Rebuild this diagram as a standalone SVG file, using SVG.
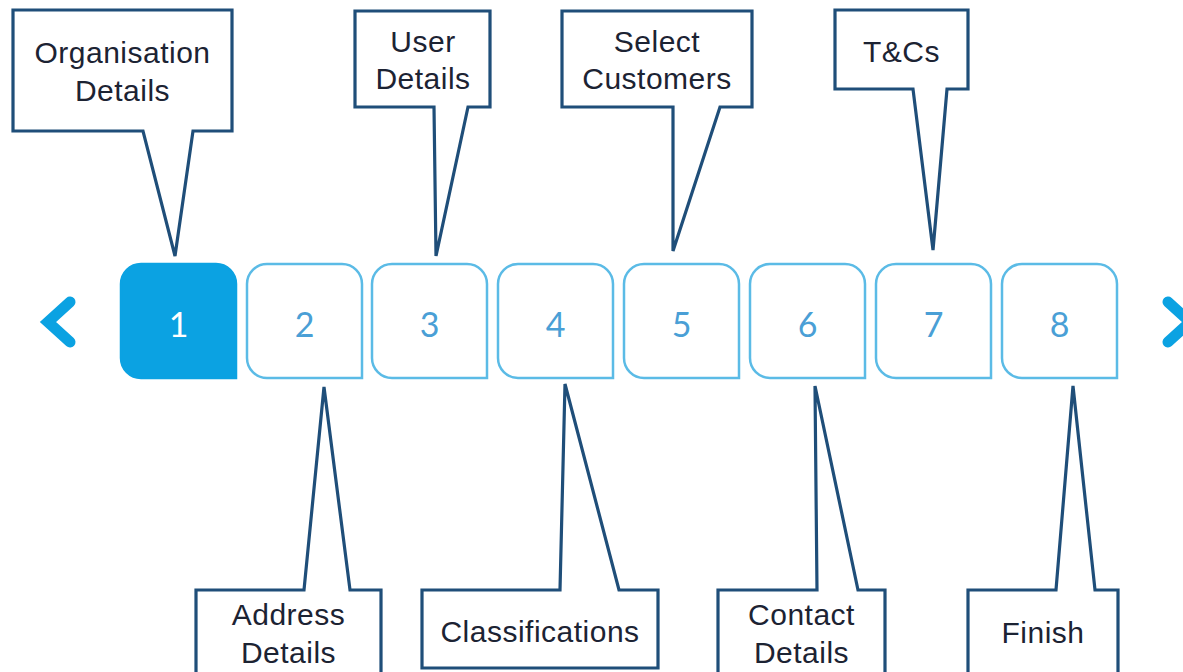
<svg xmlns="http://www.w3.org/2000/svg" width="1183" height="672" viewBox="0 0 1183 672">
  <style>
    .callout { fill: #ffffff; stroke: #1f4e79; stroke-width: 3.2; stroke-linejoin: miter; }
    .label { font-family: "Liberation Sans", Arial, sans-serif; font-size: 30px; letter-spacing: 0.5px; fill: #1c2333; text-anchor: middle; }
    .step { fill: #ffffff; stroke: #5bbbe6; stroke-width: 2.5; }
    .step-active { fill: #0ba2e2; stroke: #0ba2e2; stroke-width: 2.5; }
    .num { font-family: Lato, "Open Sans", sans-serif; font-size: 34px; fill: #4a9fd6; text-anchor: middle; }
    .num-active { fill: #ffffff; }
    .chev { fill: none; stroke: #0ba2e2; stroke-width: 11; stroke-linejoin: miter; stroke-linecap: round; }
  </style>
  <rect width="1183" height="672" fill="#ffffff"/>

  <!-- pager arrows -->
  <g id="nav-prev"><polyline class="chev" points="70,302 48,322 70,342"/></g>
  <g id="nav-next"><polyline class="chev" points="1168,302 1190,322 1168,342"/></g>

  <!-- step tabs: rounded except bottom-right corner -->
  <g id="step-1">
    <path class="step-active" d="M121,284 a20,20 0 0 1 20,-20 h75 a20,20 0 0 1 20,20 v94 h-95 a20,20 0 0 1 -20,-20 z"/>
    <text class="num num-active" x="178.5" y="337">1</text>
  </g>
  <g id="step-2">
    <path class="step" d="M247,284 a20,20 0 0 1 20,-20 h75 a20,20 0 0 1 20,20 v94 h-95 a20,20 0 0 1 -20,-20 z"/>
    <text class="num" x="304.5" y="337">2</text>
  </g>
  <g id="step-3">
    <path class="step" d="M372,284 a20,20 0 0 1 20,-20 h75 a20,20 0 0 1 20,20 v94 h-95 a20,20 0 0 1 -20,-20 z"/>
    <text class="num" x="429.5" y="337">3</text>
  </g>
  <g id="step-4">
    <path class="step" d="M498,284 a20,20 0 0 1 20,-20 h75 a20,20 0 0 1 20,20 v94 h-95 a20,20 0 0 1 -20,-20 z"/>
    <text class="num" x="555.5" y="337">4</text>
  </g>
  <g id="step-5">
    <path class="step" d="M624,284 a20,20 0 0 1 20,-20 h75 a20,20 0 0 1 20,20 v94 h-95 a20,20 0 0 1 -20,-20 z"/>
    <text class="num" x="681.5" y="337">5</text>
  </g>
  <g id="step-6">
    <path class="step" d="M750,284 a20,20 0 0 1 20,-20 h75 a20,20 0 0 1 20,20 v94 h-95 a20,20 0 0 1 -20,-20 z"/>
    <text class="num" x="807.5" y="337">6</text>
  </g>
  <g id="step-7">
    <path class="step" d="M876,284 a20,20 0 0 1 20,-20 h75 a20,20 0 0 1 20,20 v94 h-95 a20,20 0 0 1 -20,-20 z"/>
    <text class="num" x="933.5" y="337">7</text>
  </g>
  <g id="step-8">
    <path class="step" d="M1002,284 a20,20 0 0 1 20,-20 h75 a20,20 0 0 1 20,20 v94 h-95 a20,20 0 0 1 -20,-20 z"/>
    <text class="num" x="1059.5" y="337">8</text>
  </g>

  <!-- callouts pointing at the steps -->
  <g id="connectors">
    <g id="callout-organisation">
      <path class="callout" d="M13,10 H232 V131 H193 L175,256 L143,131 H13 Z"/>
      <text class="label" x="122.5" y="63">Organisation</text>
      <text class="label" x="122.5" y="101">Details</text>
    </g>
    <g id="callout-user">
      <path class="callout" d="M355,11 H490 V107 H468 L436,256 L434,107 H355 Z"/>
      <text class="label" x="423" y="52">User</text>
      <text class="label" x="423" y="89">Details</text>
    </g>
    <g id="callout-customers">
      <path class="callout" d="M562,11 H752 V107 H720 L673,251 L673,107 H562 Z"/>
      <text class="label" x="657" y="52">Select</text>
      <text class="label" x="657" y="89">Customers</text>
    </g>
    <g id="callout-tcs">
      <path class="callout" d="M835,10 H968 V89 H947 L933,250 L913,89 H835 Z"/>
      <text class="label" x="901.5" y="62">T&amp;Cs</text>
    </g>
    <g id="callout-address">
      <path class="callout" d="M196,690 V590 H304 L324,387 L350,590 H381 V690"/>
      <text class="label" x="288.5" y="625">Address</text>
      <text class="label" x="288.5" y="663">Details</text>
    </g>
    <g id="callout-classifications">
      <path class="callout" d="M422,590 H560 L565,384 L619,590 H658 V668 H422 Z"/>
      <text class="label" x="540" y="642">Classifications</text>
    </g>
    <g id="callout-contact">
      <path class="callout" d="M718,690 V590 H817 L815,386 L858,590 H885 V690"/>
      <text class="label" x="801.5" y="625">Contact</text>
      <text class="label" x="801.5" y="663">Details</text>
    </g>
    <g id="callout-finish">
      <path class="callout" d="M968,690 V590 H1056 L1073,386 L1095,590 H1118 V690"/>
      <text class="label" x="1043" y="643">Finish</text>
    </g>
  </g>
</svg>
